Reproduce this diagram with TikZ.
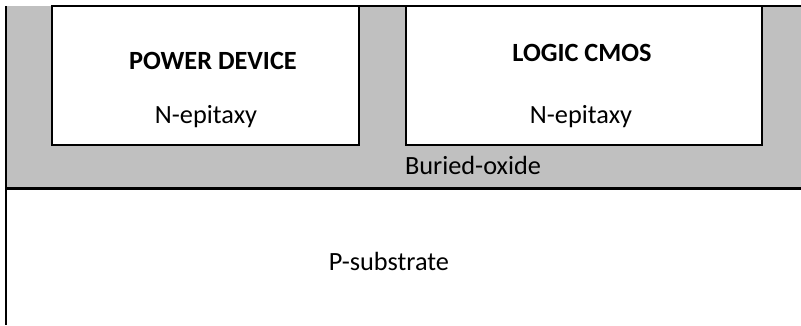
\documentclass[tikz,border=0pt]{standalone}
\usepackage{fontspec}
\setmainfont{Carlito}
\usepackage{tikz}
\definecolor{oxidegray}{RGB}{192,192,192}
\tikzset{
  label text/.style={anchor=base,inner sep=0pt,font=\fontsize{26.3}{31}\selectfont},
  title text/.style={label text,font=\fontsize{26.3}{31}\selectfont\bfseries}
}

\begin{document}
\begin{tikzpicture}[line cap=butt,line join=miter,x=1pt,y=-1pt]
\useasboundingbox (0,0) rectangle (801,325);
% buried oxide
\fill [oxidegray] (6,6) rectangle (801,187);
\draw [line width=3pt] (6,188) -- (801,188);
\draw [line width=2.5pt] (6,6) -- (6,325);
% epitaxy islands
\draw [fill=white,line width=2pt] (52,6) rectangle (359,145);
\draw [fill=white,line width=2pt] (406,6) rectangle (762,145);
\draw [line width=2pt] (52,6) -- (801,6);
% labels
\node [title text] (power) at (213,69) {POWER DEVICE};
\node [label text] (epileft) at (206,123) {N-epitaxy};
\node [title text] (logic) at (582,61) {LOGIC CMOS};
\node [label text] (epiright) at (581,123) {N-epitaxy};
\node [label text] (box) at (473,174) {Buried-oxide};
\node [label text] (substrate) at (389,270) {P-substrate};
\end{tikzpicture}
\end{document}
